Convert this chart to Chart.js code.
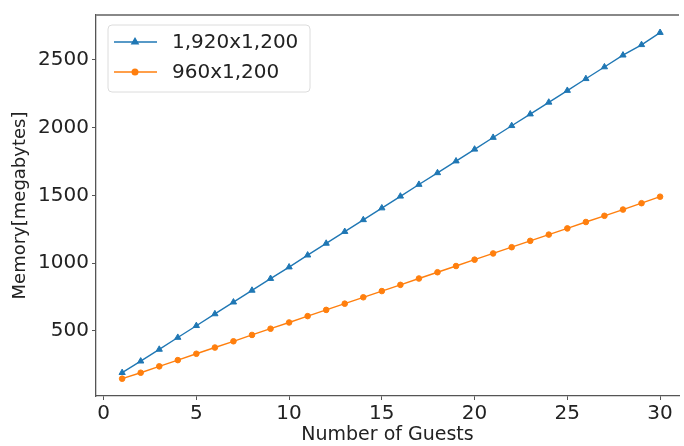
<!DOCTYPE html>
<html>
<head>
<meta charset="utf-8">
<script src="https://cdn.jsdelivr.net/npm/chart.js@4"></script>
<style>
  html, body { margin: 0; padding: 0; background: #fff; overflow: hidden; }
  #wrap { width: 684px; height: 446px; position: relative; }
</style>
</head>
<body>
<div id="wrap"><canvas id="memory-chart"></canvas></div>
<script>
// Memory use against number of guests
const guests = [1, 2, 3, 4, 5, 6, 7, 8, 9, 10, 11, 12, 13, 14, 15,
                16, 17, 18, 19, 20, 21, 22, 23, 24, 25, 26, 27, 28, 29, 30];
const memFullRes = [190, 275, 362, 450, 537, 624, 711, 798, 885, 970,
                    1058, 1145, 1232, 1319, 1406, 1493, 1580, 1666, 1753, 1840,
                    1927, 2014, 2100, 2187, 2274, 2361, 2448, 2535, 2612, 2702];
const memHalfRes = [146, 190, 237, 283, 330, 376, 422, 469, 515, 561,
                    608, 654, 700, 747, 793, 839, 886, 932, 978, 1025,
                    1071, 1117, 1164, 1210, 1256, 1303, 1349, 1395, 1442, 1490];
const seriesNames = ['1,920x1,200', '960x1,200'];
const xTicks = [0, 5, 10, 15, 20, 25, 30];
const yTicks = [500, 1000, 1500, 2000, 2500];

const BLUE = '#1f77b4';
const ORANGE = '#ff7f0e';
const FONT = 'DejaVu Sans';

Chart.defaults.font.family = FONT;
Chart.defaults.color = '#222';

// matplotlib-style frame: grey top spine
const frame = {
  id: 'frame',
  afterDraw(chart) {
    const { ctx, chartArea: a } = chart;
    ctx.save();
    ctx.strokeStyle = '#888';
    ctx.lineWidth = 2;
    ctx.beginPath();
    ctx.moveTo(a.left, a.top);
    ctx.lineTo(a.right, a.top);
    ctx.stroke();
    ctx.restore();
  }
};

// legend box in the upper left corner of the plot
const innerLegend = {
  id: 'innerLegend',
  afterDatasetsDraw(chart) {
    const { ctx, chartArea: a } = chart;
    const x0 = a.left + 12, y0 = a.top + 10, w = 202, h = 67;
    ctx.save();
    ctx.fillStyle = 'rgba(255,255,255,0.8)';
    ctx.strokeStyle = '#dcdcdc';
    ctx.lineWidth = 1;
    ctx.beginPath();
    ctx.roundRect(x0, y0, w, h, 4);
    ctx.fill();
    ctx.stroke();
    chart.data.datasets.forEach((ds, i) => {
      const y = y0 + 17 + i * 30;
      ctx.strokeStyle = ds.borderColor;
      ctx.lineWidth = 1.4;
      ctx.beginPath();
      ctx.moveTo(x0 + 6, y);
      ctx.lineTo(x0 + 49, y);
      ctx.stroke();
      Chart.helpers.drawPoint(ctx, {
        pointStyle: ds.pointStyle, radius: ds.pointRadius, borderWidth: 1
      }, x0 + 27, y);
      ctx.fillStyle = ds.borderColor;
      ctx.fill();
      ctx.fillStyle = '#222';
      ctx.font = '20px ' + FONT;
      ctx.textBaseline = 'middle';
      ctx.fillText(ds.label, x0 + 64, y + 1);
    });
    ctx.restore();
  }
};

const axisStyle = {
  grid: { display: true, drawOnChartArea: false, drawTicks: true, tickLength: 4, color: '#555' },
  border: { display: true, color: '#555', width: 1.3 }
};

new Chart(document.getElementById('memory-chart'), {
  type: 'line',
  data: {
    datasets: [
      {
        label: seriesNames[0],
        data: guests.map((g, i) => ({ x: g, y: memFullRes[i] })),
        borderColor: BLUE,
        backgroundColor: BLUE,
        borderWidth: 1.4,
        pointStyle: 'triangle',
        pointRadius: 3.6,
        pointBorderWidth: 1
      },
      {
        label: seriesNames[1],
        data: guests.map((g, i) => ({ x: g, y: memHalfRes[i] })),
        borderColor: ORANGE,
        backgroundColor: ORANGE,
        borderWidth: 1.4,
        pointStyle: 'circle',
        pointRadius: 2.8,
        pointBorderWidth: 1
      }
    ]
  },
  options: {
    responsive: true,
    maintainAspectRatio: false,
    animation: false,
    layout: { padding: { top: 15, left: 0, right: 0, bottom: 0 } },
    plugins: {
      legend: { display: false },
      tooltip: { enabled: false }
    },
    scales: {
      x: {
        type: 'linear',
        min: -0.41,
        max: 31.02,
        afterBuildTicks: s => { s.ticks = xTicks.map(v => ({ value: v })); },
        afterFit: s => { s.height = 50; },
        ticks: { font: { size: 20 }, padding: 2, maxRotation: 0, color: '#222', callback: v => String(v) },
        title: { display: true, text: 'Number of Guests', font: { size: 19 }, padding: { top: 0, bottom: 0 }, color: '#222' },
        ...axisStyle
      },
      y: {
        type: 'linear',
        min: 18,
        max: 2832,
        afterBuildTicks: s => { s.ticks = yTicks.map(v => ({ value: v })); },
        afterFit: s => { s.width = 96; },
        ticks: { font: { size: 20 }, padding: 3, color: '#222', callback: v => String(v) },
        title: { display: true, text: 'Memory[megabytes]', font: { size: 18 }, padding: { top: 10, bottom: 0 }, color: '#222' },
        ...axisStyle
      }
    }
  },
  plugins: [frame, innerLegend]
});
</script>
</body>
</html>
